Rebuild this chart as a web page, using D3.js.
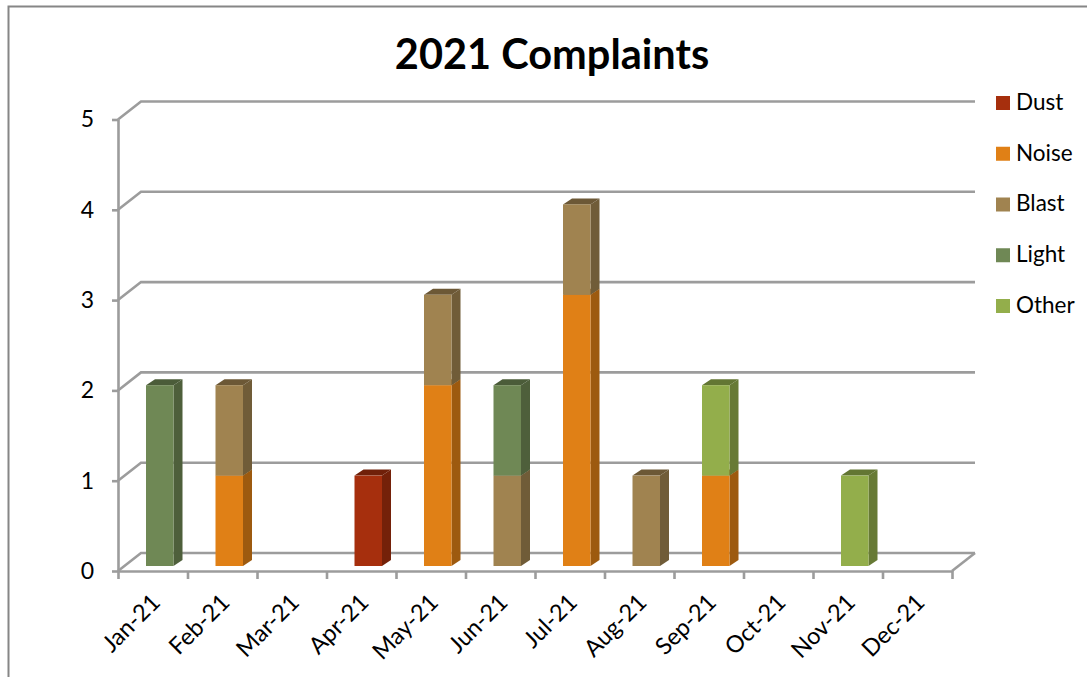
<!doctype html>
<html>
<head>
    <title>2021 Complaints</title>
    <meta charset="utf-8">
    <script src="https://d3js.org/d3.v7.min.js"></script>
    <style type="text/css">
        html, body { margin: 0; padding: 0; background: #fff; }
        svg { display: block; }
        text { font-family: Lato, "Open Sans", sans-serif; fill: #000; }
        .grid, .axis path, .axis line { fill: none; stroke: #9c9c9c; stroke-width: 2.6; }
        .frame { fill: none; stroke: #868686; stroke-width: 2; }
    </style>
</head>
<body>
<div id="plot"></div>
<script>
    var months = ["Jan-21", "Feb-21", "Mar-21", "Apr-21", "May-21", "Jun-21", "Jul-21", "Aug-21", "Sep-21", "Oct-21", "Nov-21", "Dec-21"];
    var seriesNames = ["Dust", "Noise", "Blast", "Light", "Other"];
    var seriesColors = ["#a62f0d", "#e08016", "#a08350", "#6f8855", "#93ae4b"];
    var dust = [0, 0, 0, 1, 0, 0, 0, 0, 0, 0, 0, 0];
    var noise = [0, 1, 0, 0, 2, 0, 3, 0, 1, 0, 0, 0];
    var blast = [0, 1, 0, 0, 1, 1, 1, 1, 0, 0, 0, 0];
    var light = [2, 0, 0, 0, 0, 1, 0, 0, 0, 0, 0, 0];
    var other = [0, 0, 0, 0, 0, 0, 0, 0, 1, 0, 1, 0];
    var yTicks = [0, 1, 2, 3, 4, 5];

    var width = 1087, height = 677;
    var left = 118, right = 952, bottom = 571, top5 = 119.5;
    var wallDx = 23, wallDy = 18; // 3d offset of the back wall
    var barDx = 9, barDy = 6;     // 3d depth of a bar

    var svg = d3.select("#plot").append("svg")
        .attr("width", width)
        .attr("height", height);

    // outer chart frame, cut by the window on the right and bottom
    svg.append("path")
        .attr("class", "frame")
        .attr("d", "M8.5," + height + "V6.5H" + width);

    svg.append("text")
        .attr("x", 552)
        .attr("y", 69)
        .attr("text-anchor", "middle")
        .style("font-size", "41.5px")
        .style("font-weight", 700)
        .text("2021 Complaints");

    var yScale = d3.scaleLinear().domain([0, 5]).range([bottom, top5]);
    var xEdge = d3.scaleLinear().domain([0, 12]).range([left, right]);
    var xBand = d3.scaleBand().domain(months).range([left, right]);
    // bars stand a little behind the front of the floor
    var yBar = d3.scaleLinear().domain([0, 5]).range([566, 114]);

    // back wall gridlines with their slanted part on the side wall
    svg.append("g").selectAll("path")
        .data(yTicks)
        .enter().append("path")
        .attr("class", "grid")
        .attr("d", function (d) {
            var y = yScale(d);
            return "M" + left + "," + y + "L" + (left + wallDx) + "," + (y - wallDy) + "H" + (right + wallDx);
        });

    // floor edge on the right
    svg.append("path")
        .attr("class", "grid")
        .attr("d", "M" + right + "," + bottom + "L" + (right + wallDx) + "," + (bottom - wallDy));

    var yAxis = svg.append("g")
        .attr("class", "axis")
        .attr("transform", "translate(" + left + ",0)")
        .call(d3.axisLeft(yScale).tickValues(yTicks).tickFormat(d3.format("d")).tickSize(6).tickSizeOuter(0));
    yAxis.selectAll("text")
        .attr("x", -24)
        .style("font-size", "23px");

    var xAxis = svg.append("g")
        .attr("class", "axis")
        .attr("transform", "translate(0," + bottom + ")")
        .call(d3.axisBottom(xEdge).tickValues(d3.range(13)).tickFormat("").tickSize(8).tickSizeOuter(0));

    svg.append("g")
        .attr("transform", "translate(0," + bottom + ")")
        .call(d3.axisBottom(xBand).tickSize(0))
        .call(function (g) { g.select(".domain").remove(); })
        .selectAll("text")
        .attr("transform", "translate(3,27) rotate(-45)")
        .attr("text-anchor", "end")
        .attr("x", 0)
        .attr("y", 0)
        .attr("dy", "0.35em")
        .style("font-size", "23.5px");

    // stack series in legend order
    var table = months.map(function (m, i) {
        return { month: m, Dust: dust[i], Noise: noise[i], Blast: blast[i], Light: light[i], Other: other[i] };
    });
    var stacked = d3.stack().keys(seriesNames)(table);
    var barWidth = 27.5, barShift = 7;

    stacked.forEach(function (layer, s) {
        var base = d3.color(seriesColors[s]);
        var g = svg.append("g").selectAll("g")
            .data(layer.filter(function (d) { return d[1] > d[0]; }))
            .enter().append("g");

        function x0(d) { return xBand(d.data.month) + xBand.bandwidth() / 2 + barShift - barWidth / 2; }

        // side face
        g.append("path")
            .attr("fill", base.darker(1))
            .attr("d", function (d) {
                var x = x0(d) + barWidth, y1 = yBar(d[1]), y2 = yBar(d[0]);
                return "M" + x + "," + y2 + "L" + (x + barDx) + "," + (y2 - barDy) + "V" + (y1 - barDy) + "L" + x + "," + y1 + "Z";
            });
        // top face
        g.append("path")
            .attr("fill", base.darker(1.1))
            .attr("d", function (d) {
                var x = x0(d), y = yBar(d[1]);
                return "M" + x + "," + y + "L" + (x + barDx) + "," + (y - barDy) + "H" + (x + barWidth + barDx) + "L" + (x + barWidth) + "," + y + "Z";
            });
        // front face
        g.append("rect")
            .attr("fill", base)
            .attr("x", x0)
            .attr("y", function (d) { return yBar(d[1]); })
            .attr("width", barWidth)
            .attr("height", function (d) { return yBar(d[0]) - yBar(d[1]); });
    });

    // legend
    var legendY = d3.scalePoint().domain(seriesNames).range([103, 306]);
    var legend = svg.append("g").selectAll("g")
        .data(seriesNames)
        .enter().append("g")
        .attr("transform", function (d) { return "translate(996," + legendY(d) + ")"; });
    legend.append("rect")
        .attr("y", -7)
        .attr("width", 14)
        .attr("height", 14)
        .attr("fill", function (d, i) { return seriesColors[i]; });
    legend.append("text")
        .attr("x", 20)
        .attr("y", -1)
        .attr("dy", "0.35em")
        .style("font-size", "22.5px")
        .text(function (d) { return d; });
</script>
</body>
</html>
